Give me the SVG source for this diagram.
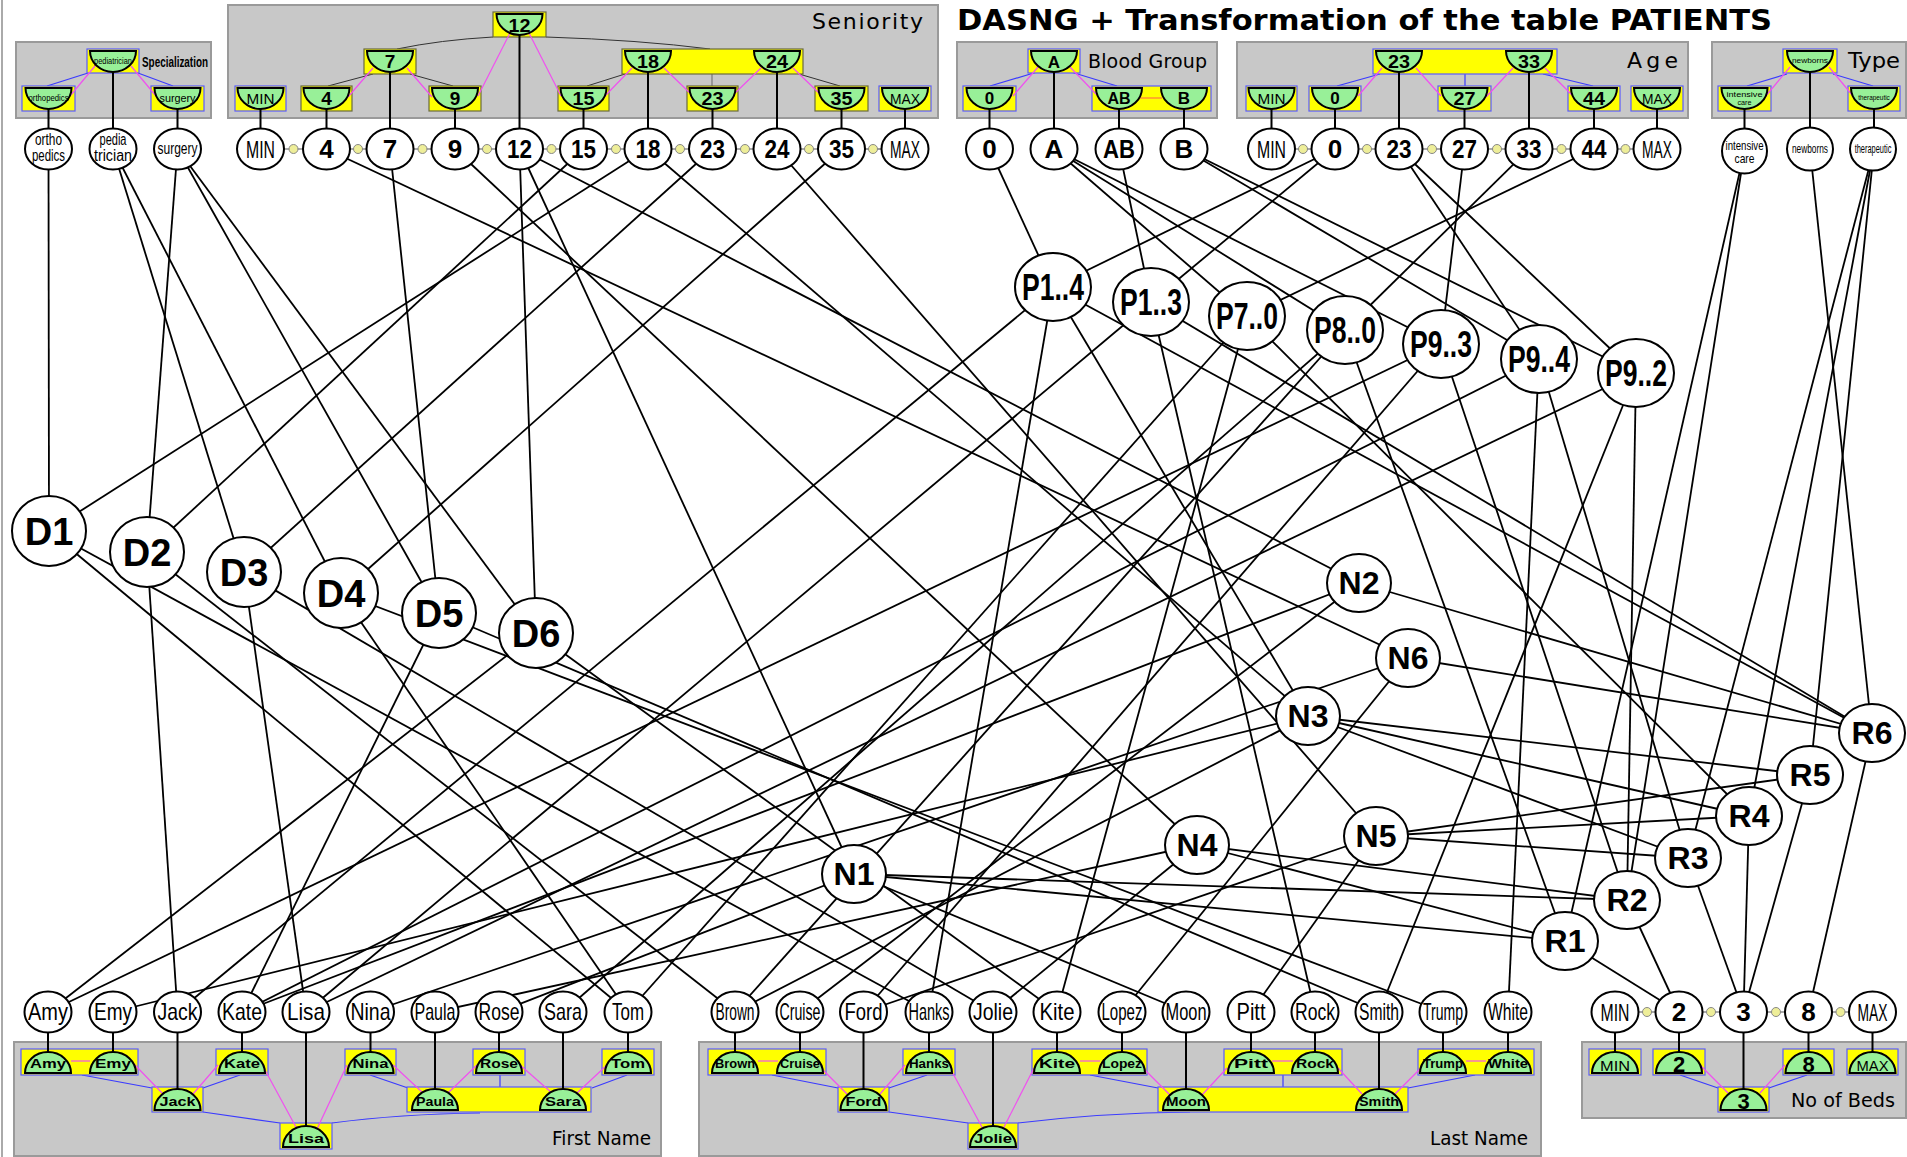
<svg xmlns="http://www.w3.org/2000/svg" width="1907" height="1157" viewBox="0 0 1907 1157">
<defs>
<path id="dt" d="M-23,0H23A23,21 0 0 1 -23,0Z"/>
<path id="db" d="M-23,0A23,21 0 0 1 23,0Z"/>
</defs>
<style>
.pan{fill:#c8c8c8;stroke:#9a9a9a;stroke-width:2}
.bx{fill:#ffff00;stroke:#5a5aff;stroke-width:1.2}
.bk{fill:#ffff00;stroke:#6b6b3c;stroke-width:1.2}
.dc{fill:#98f098;stroke:#000;stroke-width:2}
.hb{stroke:#3a3aff;stroke-width:1.2;fill:none}
.hm{stroke:#f050f0;stroke-width:1.2}
.ho{stroke:#ff9a30;stroke-width:1.6}
.hk{stroke:#333;stroke-width:1;fill:none}
.nd{fill:#fff;stroke:#000;stroke-width:2}
.stem line{stroke:#000;stroke-width:2}
.edges line{stroke:#000;stroke-width:1.8}
.dots line{stroke:#555;stroke-width:1.2}
.dots circle{fill:#eeee99;stroke:#888;stroke-width:1}
text{font-family:"Liberation Sans",Arial,sans-serif;text-anchor:middle;fill:#000}
.tn{font-size:24px}
.tb{font-size:26px;font-weight:bold}
.ts{font-size:16px}
.tt{font-size:13px}
.td{font-size:38px;font-weight:bold}
.tp{font-size:37px;font-weight:bold}
.tr{font-size:32px;font-weight:bold}
.k1{font-size:19px;font-weight:bold}
.k2{font-size:15px}
.k3{font-size:9px}
.kb{font-size:12px;font-weight:bold}
.lab{font-family:"DejaVu Sans","Liberation Sans",sans-serif;font-size:19px;text-anchor:start}
.ttl{font-family:"DejaVu Sans","Liberation Sans",sans-serif;font-size:29px;font-weight:bold;text-anchor:start}
</style>

<rect width="1907" height="1157" fill="#fff"/>
<line x1="2" y1="0" x2="2" y2="1157" stroke="#aaa" stroke-width="2"/>

<!-- attribute panels, top -->
<g id="panel-specialization">
<rect class="pan" x="16" y="42" width="195" height="76"/>
<line class="hb" x1="47" y1="86" x2="88" y2="73"/><line class="hb" x1="138" y1="73" x2="173" y2="86"/>
<rect class="bx" x="22" y="86" width="53" height="25"/><rect class="bx" x="87" y="49" width="52" height="24"/><rect class="bx" x="151" y="86" width="53" height="25"/>
<line class="hm" x1="95" y1="66" x2="70" y2="96"/><line class="hm" x1="131" y1="66" x2="156" y2="96"/>
<use href="#dt" x="48.5" y="88" class="dc"/><use href="#dt" x="113" y="51" class="dc"/><use href="#dt" x="177.5" y="88" class="dc"/>
<text class="k3" x="48.5" y="101" textLength="40" lengthAdjust="spacingAndGlyphs">orthopedics</text>
<text class="k3" x="113" y="64" textLength="38" lengthAdjust="spacingAndGlyphs">pediatrician</text>
<text x="177.5" y="102" style="font-size:11px" textLength="36" lengthAdjust="spacingAndGlyphs">surgery</text>
<text x="142" y="67" style="font-size:15px;font-weight:bold;text-anchor:start" textLength="66" lengthAdjust="spacingAndGlyphs">Specialization</text>
</g>

<g id="panel-seniority">
<rect class="pan" x="228" y="5" width="710" height="113"/>
<path class="hk" d="M397,49 Q440,40 493,37"/><path class="hk" d="M546,37 Q640,40 710,49"/>
<line class="hk" x1="373" y1="74" x2="328" y2="86"/><line class="hk" x1="410" y1="74" x2="453" y2="86"/>
<line class="hk" x1="625" y1="74" x2="587" y2="86"/><line class="hk" x1="799" y1="74" x2="840" y2="86"/>
<line x1="712" y1="74" x2="712" y2="86" stroke="#777" stroke-width="1.2"/>
<rect class="bx" x="235" y="86" width="51" height="25"/><rect class="bk" x="301" y="86" width="51" height="25"/>
<rect class="bk" x="364" y="49" width="52" height="25"/><rect class="bk" x="429" y="86" width="52" height="25"/>
<rect class="bk" x="493" y="12" width="53" height="25"/><rect class="bk" x="558" y="86" width="51" height="25"/>
<rect class="bk" x="622" y="49" width="181" height="25"/><rect class="bk" x="687" y="86" width="51" height="25"/>
<rect class="bk" x="815" y="86" width="53" height="25"/><rect class="bx" x="879" y="86" width="52" height="25"/>
<line class="hm" x1="373" y1="68" x2="348" y2="97"/><line class="hm" x1="407" y1="68" x2="432" y2="97"/>
<line class="hm" x1="510" y1="33" x2="478" y2="96"/><line class="hm" x1="529" y1="33" x2="561" y2="96"/>
<line class="hm" x1="632" y1="68" x2="604" y2="97"/><line class="hm" x1="664" y1="68" x2="692" y2="95"/>
<line class="hm" x1="761" y1="68" x2="733" y2="95"/><line class="hm" x1="793" y1="68" x2="820" y2="94"/>
<use href="#dt" x="260.5" y="88" class="dc"/><use href="#dt" x="326.5" y="88" class="dc"/><use href="#dt" x="390" y="51" class="dc"/>
<use href="#dt" x="455" y="88" class="dc"/><use href="#dt" x="519.5" y="14" class="dc"/><use href="#dt" x="583.5" y="88" class="dc"/>
<use href="#dt" x="648" y="51" class="dc"/><use href="#dt" x="712.5" y="88" class="dc"/><use href="#dt" x="777" y="51" class="dc"/>
<use href="#dt" x="841.5" y="88" class="dc"/><use href="#dt" x="905" y="88" class="dc"/>
<text class="k2" x="260.5" y="104" textLength="28" lengthAdjust="spacingAndGlyphs">MIN</text>
<text class="k1" x="326.5" y="105">4</text><text class="k1" x="390" y="68">7</text><text class="k1" x="455" y="105">9</text>
<text class="k1" x="519.5" y="32" textLength="22" lengthAdjust="spacingAndGlyphs">12</text>
<text class="k1" x="583.5" y="105" textLength="22" lengthAdjust="spacingAndGlyphs">15</text>
<text class="k1" x="648" y="68" textLength="22" lengthAdjust="spacingAndGlyphs">18</text>
<text class="k1" x="712.5" y="105" textLength="22" lengthAdjust="spacingAndGlyphs">23</text>
<text class="k1" x="777" y="68" textLength="22" lengthAdjust="spacingAndGlyphs">24</text>
<text class="k1" x="841.5" y="105" textLength="22" lengthAdjust="spacingAndGlyphs">35</text>
<text class="k2" x="905" y="104" textLength="30" lengthAdjust="spacingAndGlyphs">MAX</text>
<text class="lab" x="812" y="29" style="font-size:22px" textLength="111" lengthAdjust="spacing">Seniority</text>
</g>

<g id="panel-blood">
<rect class="pan" x="957" y="42" width="260" height="76"/>
<line class="hb" x1="990" y1="86" x2="1037" y2="72"/><line class="hb" x1="1071" y1="72" x2="1117" y2="86"/>
<rect class="bx" x="1028" y="49" width="52" height="24"/><rect class="bx" x="963" y="86" width="53" height="25"/><rect class="bx" x="1092" y="86" width="119" height="25"/>
<line class="hm" x1="1038" y1="67" x2="1013" y2="96"/><line class="hm" x1="1070" y1="67" x2="1097" y2="95"/>
<line class="ho" x1="1140" y1="98" x2="1162" y2="98"/>
<use href="#dt" x="1054" y="51" class="dc"/><use href="#dt" x="989.5" y="88" class="dc"/><use href="#dt" x="1119" y="88" class="dc"/><use href="#dt" x="1184" y="88" class="dc"/>
<text class="k1" x="1054" y="68" style="font-size:17px">A</text><text class="k1" x="989.5" y="104" style="font-size:17px">0</text>
<text class="k1" x="1119" y="104" style="font-size:16px">AB</text><text class="k1" x="1184" y="104" style="font-size:17px">B</text>
<text class="lab" x="1088" y="68" textLength="119" lengthAdjust="spacing">Blood Group</text>
</g>

<g id="panel-age">
<rect class="pan" x="1237" y="42" width="451" height="76"/>
<line class="hb" x1="1337" y1="86" x2="1380" y2="74"/><line class="hb" x1="1465" y1="74" x2="1465" y2="86"/><line class="hb" x1="1543" y1="74" x2="1593" y2="86"/>
<rect class="bx" x="1246" y="86" width="51" height="25"/><rect class="bx" x="1309" y="86" width="52" height="25"/>
<rect class="bx" x="1373" y="49" width="184" height="25"/><rect class="bx" x="1438" y="86" width="53" height="25"/>
<rect class="bx" x="1568" y="86" width="52" height="25"/><rect class="bx" x="1631" y="86" width="52" height="25"/>
<line class="hm" x1="1382" y1="68" x2="1358" y2="96"/><line class="hm" x1="1416" y1="68" x2="1441" y2="96"/>
<line class="hm" x1="1513" y1="68" x2="1486" y2="97"/><line class="hm" x1="1545" y1="68" x2="1572" y2="95"/>
<use href="#dt" x="1271.5" y="88" class="dc"/><use href="#dt" x="1335" y="88" class="dc"/><use href="#dt" x="1399" y="51" class="dc"/>
<use href="#dt" x="1464.5" y="88" class="dc"/><use href="#dt" x="1529" y="51" class="dc"/><use href="#dt" x="1594" y="88" class="dc"/><use href="#dt" x="1657" y="88" class="dc"/>
<text class="k2" x="1271.5" y="104" textLength="28" lengthAdjust="spacingAndGlyphs">MIN</text>
<text class="k1" x="1335" y="104" style="font-size:17px">0</text>
<text class="k1" x="1399" y="68" textLength="22" lengthAdjust="spacingAndGlyphs">23</text>
<text class="k1" x="1464.5" y="105" textLength="22" lengthAdjust="spacingAndGlyphs">27</text>
<text class="k1" x="1529" y="68" textLength="22" lengthAdjust="spacingAndGlyphs">33</text>
<text class="k1" x="1594" y="105" textLength="22" lengthAdjust="spacingAndGlyphs">44</text>
<text class="k2" x="1657" y="104" textLength="30" lengthAdjust="spacingAndGlyphs">MAX</text>
<text class="lab" x="1627" y="68" style="font-size:22px" textLength="51" lengthAdjust="spacing">Age</text>
</g>

<g id="panel-type">
<rect class="pan" x="1712" y="42" width="194" height="76"/>
<line class="hb" x1="1747" y1="86" x2="1787" y2="74"/><line class="hb" x1="1833" y1="74" x2="1873" y2="86"/>
<rect class="bx" x="1783" y="49" width="54" height="24"/><rect class="bx" x="1718" y="86" width="53" height="25"/><rect class="bx" x="1848" y="86" width="52" height="25"/>
<line class="hm" x1="1790" y1="67" x2="1765" y2="97"/><line class="hm" x1="1829" y1="67" x2="1853" y2="96"/>
<use href="#dt" x="1810" y="51" class="dc"/><use href="#dt" x="1744.5" y="88" class="dc"/><use href="#dt" x="1874" y="88" class="dc"/>
<text x="1810" y="63" style="font-size:8px" textLength="36" lengthAdjust="spacingAndGlyphs">newborns</text>
<text x="1744.5" y="97" style="font-size:8px" textLength="36" lengthAdjust="spacingAndGlyphs">intensive</text>
<text x="1744.5" y="105" style="font-size:8px" textLength="14" lengthAdjust="spacingAndGlyphs">care</text>
<text transform="translate(1874,100) scale(0.8,1)" style="font-size:8px">therapeutic</text>
<text class="lab" x="1848" y="68" style="font-size:21px" textLength="52" lengthAdjust="spacingAndGlyphs">Type</text>
</g>

<!-- attribute panels, bottom -->
<g id="panel-firstname">
<rect class="pan" x="14" y="1042" width="647" height="114"/>
<line class="hb" x1="82" y1="1075" x2="152" y2="1088"/><line class="hb" x1="240" y1="1075" x2="203" y2="1088"/>
<line class="hb" x1="203" y1="1112" x2="280" y2="1123"/><path class="hb" d="M332,1123 Q400,1114 480,1113"/>
<line class="hb" x1="370" y1="1075" x2="408" y2="1088"/><line class="hb" x1="500" y1="1075" x2="500" y2="1087"/><line class="hb" x1="627" y1="1075" x2="592" y2="1088"/>
<rect class="bx" x="21" y="1049" width="117" height="26"/><rect class="bx" x="216" y="1049" width="52" height="26"/>
<rect class="bx" x="152" y="1087" width="51" height="25"/><rect class="bx" x="280" y="1123" width="52" height="26"/>
<rect class="bx" x="345" y="1049" width="51" height="26"/><rect class="bx" x="407" y="1087" width="184" height="25"/>
<rect class="bx" x="473" y="1049" width="52" height="26"/><rect class="bx" x="602" y="1049" width="52" height="26"/>
<line class="hm" x1="71" y1="1061" x2="90" y2="1061"/>
<line class="hm" x1="133" y1="1063" x2="163" y2="1094"/><line class="hm" x1="218" y1="1065" x2="193" y2="1094"/>
<line class="hm" x1="265" y1="1070" x2="297" y2="1129"/><line class="hm" x1="347" y1="1065" x2="317" y2="1129"/>
<line class="hm" x1="393" y1="1065" x2="423" y2="1093"/><line class="hm" x1="477" y1="1065" x2="448" y2="1093"/>
<line class="hm" x1="520" y1="1065" x2="552" y2="1093"/><line class="hm" x1="607" y1="1065" x2="577" y2="1093"/>
<use href="#db" x="48" y="1073" class="dc"/><use href="#db" x="113" y="1073" class="dc"/><use href="#db" x="242" y="1073" class="dc"/>
<use href="#db" x="177.5" y="1110" class="dc"/><use href="#db" x="306" y="1147" class="dc"/><use href="#db" x="370.5" y="1073" class="dc"/>
<use href="#db" x="435" y="1110" class="dc"/><use href="#db" x="563" y="1110" class="dc"/><use href="#db" x="499" y="1073" class="dc"/><use href="#db" x="628" y="1073" class="dc"/>
<text class="kb" x="48" y="1068" textLength="36" lengthAdjust="spacingAndGlyphs">Amy</text>
<text class="kb" x="113" y="1068" textLength="36" lengthAdjust="spacingAndGlyphs">Emy</text>
<text class="kb" x="242" y="1068" textLength="36" lengthAdjust="spacingAndGlyphs">Kate</text>
<text class="kb" x="177.5" y="1106" textLength="36" lengthAdjust="spacingAndGlyphs">Jack</text>
<text class="kb" x="306" y="1143" textLength="36" lengthAdjust="spacingAndGlyphs">Lisa</text>
<text class="kb" x="370.5" y="1068" textLength="36" lengthAdjust="spacingAndGlyphs">Nina</text>
<text class="kb" x="435" y="1106" textLength="38" lengthAdjust="spacingAndGlyphs">Paula</text>
<text class="kb" x="563" y="1106" textLength="36" lengthAdjust="spacingAndGlyphs">Sara</text>
<text class="kb" x="499" y="1068" textLength="38" lengthAdjust="spacingAndGlyphs">Rose</text>
<text class="kb" x="628" y="1068" textLength="34" lengthAdjust="spacingAndGlyphs">Tom</text>
<text class="lab" x="552" y="1145" textLength="99" lengthAdjust="spacingAndGlyphs">First Name</text>
</g>

<g id="panel-lastname">
<rect class="pan" x="699" y="1042" width="842" height="114"/>
<line class="hb" x1="772" y1="1075" x2="838" y2="1088"/><line class="hb" x1="927" y1="1075" x2="889" y2="1088"/>
<line class="hb" x1="889" y1="1112" x2="968" y2="1123"/><path class="hb" d="M1018,1123 Q1100,1113 1190,1112"/>
<line class="hb" x1="1090" y1="1075" x2="1158" y2="1088"/><line class="hb" x1="1283" y1="1075" x2="1283" y2="1087"/><line class="hb" x1="1475" y1="1075" x2="1408" y2="1088"/>
<rect class="bx" x="708" y="1049" width="118" height="26"/><rect class="bx" x="838" y="1087" width="51" height="25"/>
<rect class="bx" x="903" y="1049" width="52" height="26"/><rect class="bx" x="968" y="1123" width="50" height="26"/>
<rect class="bx" x="1032" y="1049" width="115" height="26"/><rect class="bx" x="1158" y="1087" width="250" height="25"/>
<rect class="bx" x="1224" y="1049" width="118" height="26"/><rect class="bx" x="1418" y="1049" width="116" height="26"/>
<line class="hm" x1="758" y1="1061" x2="778" y2="1061"/><line class="hm" x1="1080" y1="1061" x2="1100" y2="1061"/>
<line class="hm" x1="1272" y1="1061" x2="1293" y2="1061"/><line class="hm" x1="1466" y1="1061" x2="1486" y2="1061"/>
<line class="hm" x1="818" y1="1065" x2="847" y2="1094"/><line class="hm" x1="905" y1="1065" x2="880" y2="1094"/>
<line class="hm" x1="950" y1="1068" x2="983" y2="1129"/><line class="hm" x1="1034" y1="1068" x2="1003" y2="1129"/>
<line class="hm" x1="1143" y1="1068" x2="1170" y2="1095"/><line class="hm" x1="1227" y1="1068" x2="1202" y2="1095"/>
<line class="hm" x1="1338" y1="1068" x2="1362" y2="1094"/><line class="hm" x1="1421" y1="1068" x2="1395" y2="1094"/>
<use href="#db" x="735" y="1073" class="dc"/><use href="#db" x="800" y="1073" class="dc"/><use href="#db" x="863.5" y="1110" class="dc"/>
<use href="#db" x="929" y="1073" class="dc"/><use href="#db" x="993" y="1147" class="dc"/><use href="#db" x="1057" y="1073" class="dc"/>
<use href="#db" x="1122" y="1073" class="dc"/><use href="#db" x="1186" y="1110" class="dc"/><use href="#db" x="1251" y="1073" class="dc"/>
<use href="#db" x="1315" y="1073" class="dc"/><use href="#db" x="1379" y="1110" class="dc"/><use href="#db" x="1443" y="1073" class="dc"/><use href="#db" x="1508" y="1073" class="dc"/>
<text class="kb" x="735" y="1068" textLength="40" lengthAdjust="spacingAndGlyphs">Brown</text>
<text class="kb" x="800" y="1068" textLength="40" lengthAdjust="spacingAndGlyphs">Cruise</text>
<text class="kb" x="863.5" y="1106" textLength="36" lengthAdjust="spacingAndGlyphs">Ford</text>
<text class="kb" x="929" y="1068" textLength="40" lengthAdjust="spacingAndGlyphs">Hanks</text>
<text class="kb" x="993" y="1143" textLength="38" lengthAdjust="spacingAndGlyphs">Jolie</text>
<text class="kb" x="1057" y="1068" textLength="36" lengthAdjust="spacingAndGlyphs">Kite</text>
<text class="kb" x="1122" y="1068" textLength="40" lengthAdjust="spacingAndGlyphs">Lopez</text>
<text class="kb" x="1186" y="1106" textLength="40" lengthAdjust="spacingAndGlyphs">Moon</text>
<text class="kb" x="1251" y="1068" textLength="34" lengthAdjust="spacingAndGlyphs">Pitt</text>
<text class="kb" x="1315" y="1068" textLength="38" lengthAdjust="spacingAndGlyphs">Rock</text>
<text class="kb" x="1379" y="1106" textLength="40" lengthAdjust="spacingAndGlyphs">Smith</text>
<text class="kb" x="1443" y="1068" textLength="40" lengthAdjust="spacingAndGlyphs">Trump</text>
<text class="kb" x="1508" y="1068" textLength="40" lengthAdjust="spacingAndGlyphs">White</text>
<text class="lab" x="1430" y="1145" textLength="98" lengthAdjust="spacingAndGlyphs">Last Name</text>
</g>

<g id="panel-beds">
<rect class="pan" x="1582" y="1042" width="324" height="76"/>
<line class="hb" x1="1680" y1="1075" x2="1718" y2="1088"/><line class="hb" x1="1807" y1="1075" x2="1769" y2="1088"/>
<rect class="bx" x="1589" y="1049" width="52" height="26"/><rect class="bx" x="1653" y="1049" width="52" height="26"/>
<rect class="bx" x="1783" y="1049" width="51" height="26"/><rect class="bx" x="1847" y="1049" width="51" height="26"/><rect class="bx" x="1718" y="1087" width="51" height="25"/>
<line class="hm" x1="1700" y1="1065" x2="1728" y2="1093"/><line class="hm" x1="1785" y1="1065" x2="1760" y2="1093"/>
<use href="#db" x="1615" y="1073" class="dc"/><use href="#db" x="1679" y="1073" class="dc"/><use href="#db" x="1808.5" y="1073" class="dc"/>
<use href="#db" x="1872.5" y="1073" class="dc"/><use href="#db" x="1743.5" y="1110" class="dc"/>
<text class="k2" x="1615" y="1071" textLength="30" lengthAdjust="spacingAndGlyphs">MIN</text>
<text class="k1" x="1679" y="1072" style="font-size:22px">2</text>
<text class="k1" x="1808.5" y="1072" style="font-size:22px">8</text>
<text class="k2" x="1872.5" y="1071" textLength="32" lengthAdjust="spacingAndGlyphs">MAX</text>
<text class="k1" x="1743.5" y="1109" style="font-size:22px">3</text>
<text class="lab" x="1791" y="1107" textLength="104" lengthAdjust="spacingAndGlyphs">No of Beds</text>
</g>

<!-- stems from value boxes to value nodes -->
<g class="stem" id="stems">
<line x1="48.5" y1="109" x2="48.5" y2="128"/><line x1="113" y1="72" x2="113" y2="128"/><line x1="177.5" y1="109" x2="177.5" y2="128"/>
<line x1="260.5" y1="109" x2="260.5" y2="128"/><line x1="326.5" y1="109" x2="326.5" y2="128"/><line x1="390" y1="72" x2="390" y2="128"/>
<line x1="455" y1="109" x2="455" y2="128"/><line x1="519.5" y1="35" x2="519.5" y2="128"/><line x1="583.5" y1="109" x2="583.5" y2="128"/>
<line x1="648" y1="72" x2="648" y2="128"/><line x1="712.5" y1="109" x2="712.5" y2="128"/><line x1="777" y1="72" x2="777" y2="128"/>
<line x1="841.5" y1="109" x2="841.5" y2="128"/><line x1="905" y1="109" x2="905" y2="128"/>
<line x1="989.5" y1="109" x2="989.5" y2="128"/><line x1="1054" y1="72" x2="1054" y2="128"/><line x1="1119" y1="109" x2="1119" y2="128"/><line x1="1184" y1="109" x2="1184" y2="128"/>
<line x1="1271.5" y1="109" x2="1271.5" y2="128"/><line x1="1335" y1="109" x2="1335" y2="128"/><line x1="1399" y1="72" x2="1399" y2="128"/>
<line x1="1464.5" y1="109" x2="1464.5" y2="128"/><line x1="1529" y1="72" x2="1529" y2="128"/><line x1="1594" y1="109" x2="1594" y2="128"/><line x1="1657" y1="109" x2="1657" y2="128"/>
<line x1="1744.5" y1="109" x2="1744.5" y2="129"/><line x1="1810" y1="72" x2="1810" y2="128"/><line x1="1874" y1="109" x2="1874" y2="128"/>
<line x1="48" y1="1033" x2="48" y2="1052"/><line x1="113" y1="1033" x2="113" y2="1052"/><line x1="177.5" y1="1033" x2="177.5" y2="1089"/>
<line x1="242" y1="1033" x2="242" y2="1052"/><line x1="306" y1="1033" x2="306" y2="1126"/><line x1="370.5" y1="1033" x2="370.5" y2="1052"/>
<line x1="435" y1="1033" x2="435" y2="1089"/><line x1="499" y1="1033" x2="499" y2="1052"/><line x1="563" y1="1033" x2="563" y2="1089"/><line x1="628" y1="1033" x2="628" y2="1052"/>
<line x1="735" y1="1033" x2="735" y2="1052"/><line x1="800" y1="1033" x2="800" y2="1052"/><line x1="863.5" y1="1033" x2="863.5" y2="1089"/>
<line x1="929" y1="1033" x2="929" y2="1052"/><line x1="993" y1="1033" x2="993" y2="1126"/><line x1="1057" y1="1033" x2="1057" y2="1052"/>
<line x1="1122" y1="1033" x2="1122" y2="1052"/><line x1="1186" y1="1033" x2="1186" y2="1089"/><line x1="1251" y1="1033" x2="1251" y2="1052"/>
<line x1="1315" y1="1033" x2="1315" y2="1052"/><line x1="1379" y1="1033" x2="1379" y2="1089"/><line x1="1443" y1="1033" x2="1443" y2="1052"/><line x1="1508" y1="1033" x2="1508" y2="1052"/>
<line x1="1615" y1="1033" x2="1615" y2="1052"/><line x1="1679" y1="1033" x2="1679" y2="1052"/><line x1="1743.5" y1="1033" x2="1743.5" y2="1089"/>
<line x1="1808.5" y1="1033" x2="1808.5" y2="1052"/><line x1="1872.5" y1="1033" x2="1872.5" y2="1052"/>
</g>

<!-- order links between neighbouring values -->
<g class="dots" id="order-chains">
<line x1="284" y1="149" x2="849" y2="149"/><line x1="865" y1="149" x2="882" y2="149"/>
<line x1="1295" y1="149" x2="1634" y2="149"/>
<line x1="1638" y1="1012" x2="1850" y2="1012"/>
<circle cx="293.5" cy="149" r="4.5"/><circle cx="358" cy="149" r="4.5"/><circle cx="422.5" cy="149" r="4.5"/><circle cx="487" cy="149" r="4.5"/>
<circle cx="551.5" cy="149" r="4.5"/><circle cx="616" cy="149" r="4.5"/><circle cx="680" cy="149" r="4.5"/><circle cx="745" cy="149" r="4.5"/>
<circle cx="809" cy="149" r="4.5"/><circle cx="873" cy="149" r="4.5"/>
<circle cx="1303" cy="149" r="4.5"/><circle cx="1367" cy="149" r="4.5"/><circle cx="1432" cy="149" r="4.5"/><circle cx="1497" cy="149" r="4.5"/>
<circle cx="1561.5" cy="149" r="4.5"/><circle cx="1625.5" cy="149" r="4.5"/>
<circle cx="1647" cy="1012" r="4.5"/><circle cx="1711" cy="1012" r="4.5"/><circle cx="1776" cy="1012" r="4.5"/><circle cx="1840.5" cy="1012" r="4.5"/>
</g>

<!-- graph edges -->
<g class="edges" id="connectors">
<line x1="48.5" y1="149" x2="49" y2="531"/>
<line x1="113" y1="149" x2="244" y2="572"/><line x1="113" y1="149" x2="341" y2="593"/>
<line x1="177.5" y1="149" x2="147" y2="552"/><line x1="177.5" y1="149" x2="439" y2="613"/><line x1="177.5" y1="149" x2="536" y2="633"/>
<line x1="648" y1="149" x2="49" y2="531"/><line x1="583.5" y1="149" x2="147" y2="552"/><line x1="712.5" y1="149" x2="244" y2="572"/>
<line x1="841.5" y1="149" x2="341" y2="593"/><line x1="390" y1="149" x2="439" y2="613"/><line x1="519.5" y1="149" x2="536" y2="633"/>
<line x1="49" y1="531" x2="628" y2="1012"/><line x1="49" y1="531" x2="929" y2="1012"/>
<line x1="147" y1="552" x2="177.5" y2="1012"/><line x1="147" y1="552" x2="735" y2="1012"/>
<line x1="244" y1="572" x2="306" y2="1012"/><line x1="244" y1="572" x2="993" y2="1012"/>
<line x1="341" y1="593" x2="628" y2="1012"/><line x1="341" y1="593" x2="1443" y2="1012"/>
<line x1="439" y1="613" x2="242" y2="1012"/><line x1="439" y1="613" x2="1379" y2="1012"/>
<line x1="536" y1="633" x2="48" y2="1012"/><line x1="536" y1="633" x2="1057" y2="1012"/>
<line x1="519.5" y1="149" x2="854" y2="874"/><line x1="519.5" y1="149" x2="1359" y2="583"/>
<line x1="326.5" y1="149" x2="1408" y2="658"/><line x1="455" y1="149" x2="1197" y2="845"/>
<line x1="777" y1="149" x2="1376" y2="836"/><line x1="648" y1="149" x2="1308" y2="716"/>
<line x1="1053" y1="287" x2="1308" y2="716"/>
<line x1="854" y1="874" x2="1565" y2="941"/><line x1="854" y1="874" x2="1627" y2="900"/>
<line x1="1197" y1="845" x2="1565" y2="941"/><line x1="1197" y1="845" x2="1627" y2="900"/>
<line x1="1308" y1="716" x2="1688" y2="858"/><line x1="1308" y1="716" x2="1749" y2="816"/><line x1="1308" y1="716" x2="1810" y2="775"/>
<line x1="1376" y1="836" x2="1688" y2="858"/><line x1="1376" y1="836" x2="1749" y2="816"/><line x1="1376" y1="836" x2="1810" y2="775"/>
<line x1="1359" y1="583" x2="1872" y2="733"/><line x1="1408" y1="658" x2="1872" y2="733"/>
<line x1="854" y1="874" x2="1186" y2="1012"/><line x1="854" y1="874" x2="499" y2="1012"/>
<line x1="1359" y1="583" x2="242" y2="1012"/><line x1="1359" y1="583" x2="800" y2="1012"/>
<line x1="1308" y1="716" x2="113" y2="1012"/><line x1="1308" y1="716" x2="735" y2="1012"/>
<line x1="1197" y1="845" x2="435" y2="1012"/><line x1="1197" y1="845" x2="993" y2="1012"/>
<line x1="1376" y1="836" x2="1251" y2="1012"/><line x1="1376" y1="836" x2="863.5" y2="1012"/>
<line x1="1408" y1="658" x2="370.5" y2="1012"/><line x1="1408" y1="658" x2="1122" y2="1012"/>
<line x1="989.5" y1="149" x2="1053" y2="287"/>
<line x1="1054" y1="149" x2="1247" y2="316"/><line x1="1054" y1="149" x2="1345" y2="330"/><line x1="1054" y1="149" x2="1441" y2="344"/>
<line x1="1119" y1="149" x2="1151" y2="302"/>
<line x1="1184" y1="149" x2="1539" y2="359"/><line x1="1184" y1="149" x2="1636" y2="373"/>
<line x1="1335" y1="149" x2="1053" y2="287"/><line x1="1335" y1="149" x2="1151" y2="302"/>
<line x1="1594" y1="149" x2="1247" y2="316"/><line x1="1529" y1="149" x2="1345" y2="330"/><line x1="1464.5" y1="149" x2="1441" y2="344"/>
<line x1="1399" y1="149" x2="1539" y2="359"/><line x1="1399" y1="149" x2="1636" y2="373"/>
<line x1="1053" y1="287" x2="1872" y2="733"/><line x1="1151" y1="302" x2="1872" y2="733"/>
<line x1="1247" y1="316" x2="1749" y2="816"/><line x1="1345" y1="330" x2="1565" y2="941"/>
<line x1="1441" y1="344" x2="1627" y2="900"/><line x1="1539" y1="359" x2="1688" y2="858"/><line x1="1636" y1="373" x2="1627" y2="900"/>
<line x1="1053" y1="287" x2="177.5" y2="1012"/><line x1="1053" y1="287" x2="929" y2="1012"/>
<line x1="1151" y1="302" x2="306" y2="1012"/><line x1="1151" y1="302" x2="1315" y2="1012"/>
<line x1="1247" y1="316" x2="628" y2="1012"/><line x1="1247" y1="316" x2="1057" y2="1012"/>
<line x1="1345" y1="330" x2="563" y2="1012"/><line x1="1345" y1="330" x2="735" y2="1012"/>
<line x1="1441" y1="344" x2="48" y2="1012"/><line x1="1441" y1="344" x2="863.5" y2="1012"/>
<line x1="1539" y1="359" x2="242" y2="1012"/><line x1="1539" y1="359" x2="1508" y2="1012"/>
<line x1="1636" y1="373" x2="306" y2="1012"/><line x1="1636" y1="373" x2="1379" y2="1012"/>
<line x1="1744.5" y1="151" x2="1565" y2="941"/><line x1="1744.5" y1="151" x2="1627" y2="900"/>
<line x1="1810" y1="149" x2="1872" y2="733"/>
<line x1="1874" y1="149" x2="1688" y2="858"/><line x1="1874" y1="149" x2="1749" y2="816"/><line x1="1874" y1="149" x2="1810" y2="775"/>
<line x1="1565" y1="941" x2="1679" y2="1012"/><line x1="1627" y1="900" x2="1679" y2="1012"/>
<line x1="1688" y1="858" x2="1743.5" y2="1012"/><line x1="1749" y1="816" x2="1743.5" y2="1012"/><line x1="1810" y1="775" x2="1743.5" y2="1012"/>
<line x1="1872" y1="733" x2="1808.5" y2="1012"/>
</g>

<!-- value nodes, top row -->
<g id="v-orthopedics"><ellipse class="nd" cx="48.5" cy="149" rx="23.5" ry="20.5"/><text class="ts" x="48.5" y="145" textLength="27" lengthAdjust="spacingAndGlyphs">ortho</text><text class="ts" x="48.5" y="161" textLength="33" lengthAdjust="spacingAndGlyphs">pedics</text></g>
<g id="v-pediatrician"><ellipse class="nd" cx="113" cy="149" rx="23.5" ry="20.5"/><text class="ts" x="113" y="145" textLength="27" lengthAdjust="spacingAndGlyphs">pedia</text><text class="ts" x="113" y="161" textLength="38" lengthAdjust="spacingAndGlyphs">trician</text></g>
<g id="v-surgery"><ellipse class="nd" cx="177.5" cy="149" rx="23.5" ry="20.5"/><text class="ts" x="177.5" y="154" textLength="40" lengthAdjust="spacingAndGlyphs">surgery</text></g>
<g id="v-sen-min"><ellipse class="nd" cx="260.5" cy="149" rx="23.5" ry="20.5"/><text class="tn" x="260.5" y="158" textLength="29" lengthAdjust="spacingAndGlyphs">MIN</text></g>
<g id="v-sen-4"><ellipse class="nd" cx="326.5" cy="149" rx="23.5" ry="20.5"/><text class="tb" x="326.5" y="158">4</text></g>
<g id="v-sen-7"><ellipse class="nd" cx="390" cy="149" rx="23.5" ry="20.5"/><text class="tb" x="390" y="158">7</text></g>
<g id="v-sen-9"><ellipse class="nd" cx="455" cy="149" rx="23.5" ry="20.5"/><text class="tb" x="455" y="158">9</text></g>
<g id="v-sen-12"><ellipse class="nd" cx="519.5" cy="149" rx="23.5" ry="20.5"/><text class="tb" x="519.5" y="158" textLength="25" lengthAdjust="spacingAndGlyphs">12</text></g>
<g id="v-sen-15"><ellipse class="nd" cx="583.5" cy="149" rx="23.5" ry="20.5"/><text class="tb" x="583.5" y="158" textLength="25" lengthAdjust="spacingAndGlyphs">15</text></g>
<g id="v-sen-18"><ellipse class="nd" cx="648" cy="149" rx="23.5" ry="20.5"/><text class="tb" x="648" y="158" textLength="25" lengthAdjust="spacingAndGlyphs">18</text></g>
<g id="v-sen-23"><ellipse class="nd" cx="712.5" cy="149" rx="23.5" ry="20.5"/><text class="tb" x="712.5" y="158" textLength="25" lengthAdjust="spacingAndGlyphs">23</text></g>
<g id="v-sen-24"><ellipse class="nd" cx="777" cy="149" rx="23.5" ry="20.5"/><text class="tb" x="777" y="158" textLength="25" lengthAdjust="spacingAndGlyphs">24</text></g>
<g id="v-sen-35"><ellipse class="nd" cx="841.5" cy="149" rx="23.5" ry="20.5"/><text class="tb" x="841.5" y="158" textLength="25" lengthAdjust="spacingAndGlyphs">35</text></g>
<g id="v-sen-max"><ellipse class="nd" cx="905" cy="149" rx="23.5" ry="20.5"/><text class="tn" x="905" y="158" textLength="30" lengthAdjust="spacingAndGlyphs">MAX</text></g>
<g id="v-bg-0"><ellipse class="nd" cx="989.5" cy="149" rx="23.5" ry="20.5"/><text class="tb" x="989.5" y="158">0</text></g>
<g id="v-bg-a"><ellipse class="nd" cx="1054" cy="149" rx="23.5" ry="20.5"/><text class="tb" x="1054" y="158">A</text></g>
<g id="v-bg-ab"><ellipse class="nd" cx="1119" cy="149" rx="23.5" ry="20.5"/><text class="tb" x="1119" y="158" textLength="32" lengthAdjust="spacingAndGlyphs">AB</text></g>
<g id="v-bg-b"><ellipse class="nd" cx="1184" cy="149" rx="23.5" ry="20.5"/><text class="tb" x="1184" y="158">B</text></g>
<g id="v-age-min"><ellipse class="nd" cx="1271.5" cy="149" rx="23.5" ry="20.5"/><text class="tn" x="1271.5" y="158" textLength="29" lengthAdjust="spacingAndGlyphs">MIN</text></g>
<g id="v-age-0"><ellipse class="nd" cx="1335" cy="149" rx="23.5" ry="20.5"/><text class="tb" x="1335" y="158">0</text></g>
<g id="v-age-23"><ellipse class="nd" cx="1399" cy="149" rx="23.5" ry="20.5"/><text class="tb" x="1399" y="158" textLength="25" lengthAdjust="spacingAndGlyphs">23</text></g>
<g id="v-age-27"><ellipse class="nd" cx="1464.5" cy="149" rx="23.5" ry="20.5"/><text class="tb" x="1464.5" y="158" textLength="25" lengthAdjust="spacingAndGlyphs">27</text></g>
<g id="v-age-33"><ellipse class="nd" cx="1529" cy="149" rx="23.5" ry="20.5"/><text class="tb" x="1529" y="158" textLength="25" lengthAdjust="spacingAndGlyphs">33</text></g>
<g id="v-age-44"><ellipse class="nd" cx="1594" cy="149" rx="23.5" ry="20.5"/><text class="tb" x="1594" y="158" textLength="25" lengthAdjust="spacingAndGlyphs">44</text></g>
<g id="v-age-max"><ellipse class="nd" cx="1657" cy="149" rx="23.5" ry="20.5"/><text class="tn" x="1657" y="158" textLength="30" lengthAdjust="spacingAndGlyphs">MAX</text></g>
<g id="v-intensive"><ellipse class="nd" cx="1744.5" cy="151" rx="22.5" ry="22.5"/><text class="tt" x="1744.5" y="150" textLength="38" lengthAdjust="spacingAndGlyphs">intensive</text><text class="tt" x="1744.5" y="163" textLength="20" lengthAdjust="spacingAndGlyphs">care</text></g>
<g id="v-newborns"><ellipse class="nd" cx="1810" cy="149" rx="23" ry="21.5"/><text class="tt" x="1810" y="153" textLength="36" lengthAdjust="spacingAndGlyphs">newborns</text></g>
<g id="v-therapeutic"><ellipse class="nd" cx="1873" cy="149" rx="23" ry="21.5"/><text transform="translate(1873,153) scale(0.62,1)" style="font-size:12px">therapeutic</text></g>

<!-- value nodes, bottom row -->
<g id="v-amy"><ellipse class="nd" cx="48" cy="1012" rx="23.5" ry="20.5"/><text class="tn" x="48" y="1020" textLength="40" lengthAdjust="spacingAndGlyphs">Amy</text></g>
<g id="v-emy"><ellipse class="nd" cx="113" cy="1012" rx="23.5" ry="20.5"/><text class="tn" x="113" y="1020" textLength="38" lengthAdjust="spacingAndGlyphs">Emy</text></g>
<g id="v-jack"><ellipse class="nd" cx="177.5" cy="1012" rx="23.5" ry="20.5"/><text class="tn" x="177.5" y="1020" textLength="40" lengthAdjust="spacingAndGlyphs">Jack</text></g>
<g id="v-kate"><ellipse class="nd" cx="242" cy="1012" rx="23.5" ry="20.5"/><text class="tn" x="242" y="1020" textLength="40" lengthAdjust="spacingAndGlyphs">Kate</text></g>
<g id="v-lisa"><ellipse class="nd" cx="306" cy="1012" rx="23.5" ry="20.5"/><text class="tn" x="306" y="1020" textLength="38" lengthAdjust="spacingAndGlyphs">Lisa</text></g>
<g id="v-nina"><ellipse class="nd" cx="370.5" cy="1012" rx="23.5" ry="20.5"/><text class="tn" x="370.5" y="1020" textLength="40" lengthAdjust="spacingAndGlyphs">Nina</text></g>
<g id="v-paula"><ellipse class="nd" cx="435" cy="1012" rx="23.5" ry="20.5"/><text class="tn" x="435" y="1020" textLength="41" lengthAdjust="spacingAndGlyphs">Paula</text></g>
<g id="v-rose"><ellipse class="nd" cx="499" cy="1012" rx="23.5" ry="20.5"/><text class="tn" x="499" y="1020" textLength="41" lengthAdjust="spacingAndGlyphs">Rose</text></g>
<g id="v-sara"><ellipse class="nd" cx="563" cy="1012" rx="23.5" ry="20.5"/><text class="tn" x="563" y="1020" textLength="38" lengthAdjust="spacingAndGlyphs">Sara</text></g>
<g id="v-tom"><ellipse class="nd" cx="628" cy="1012" rx="23.5" ry="20.5"/><text class="tn" x="628" y="1020" textLength="32" lengthAdjust="spacingAndGlyphs">Tom</text></g>
<g id="v-brown"><ellipse class="nd" cx="735" cy="1012" rx="23.5" ry="20.5"/><text class="tn" x="735" y="1020" textLength="39" lengthAdjust="spacingAndGlyphs">Brown</text></g>
<g id="v-cruise"><ellipse class="nd" cx="800" cy="1012" rx="23.5" ry="20.5"/><text class="tn" x="800" y="1020" textLength="41" lengthAdjust="spacingAndGlyphs">Cruise</text></g>
<g id="v-ford"><ellipse class="nd" cx="863.5" cy="1012" rx="23.5" ry="20.5"/><text class="tn" x="863.5" y="1020" textLength="38" lengthAdjust="spacingAndGlyphs">Ford</text></g>
<g id="v-hanks"><ellipse class="nd" cx="929" cy="1012" rx="23.5" ry="20.5"/><text class="tn" x="929" y="1020" textLength="41" lengthAdjust="spacingAndGlyphs">Hanks</text></g>
<g id="v-jolie"><ellipse class="nd" cx="993" cy="1012" rx="23.5" ry="20.5"/><text class="tn" x="993" y="1020" textLength="40" lengthAdjust="spacingAndGlyphs">Jolie</text></g>
<g id="v-kite"><ellipse class="nd" cx="1057" cy="1012" rx="23.5" ry="20.5"/><text class="tn" x="1057" y="1020" textLength="35" lengthAdjust="spacingAndGlyphs">Kite</text></g>
<g id="v-lopez"><ellipse class="nd" cx="1122" cy="1012" rx="23.5" ry="20.5"/><text class="tn" x="1122" y="1020" textLength="41" lengthAdjust="spacingAndGlyphs">Lopez</text></g>
<g id="v-moon"><ellipse class="nd" cx="1186" cy="1012" rx="23.5" ry="20.5"/><text class="tn" x="1186" y="1020" textLength="41" lengthAdjust="spacingAndGlyphs">Moon</text></g>
<g id="v-pitt"><ellipse class="nd" cx="1251" cy="1012" rx="23.5" ry="20.5"/><text class="tn" x="1251" y="1020" textLength="29" lengthAdjust="spacingAndGlyphs">Pitt</text></g>
<g id="v-rock"><ellipse class="nd" cx="1315" cy="1012" rx="23.5" ry="20.5"/><text class="tn" x="1315" y="1020" textLength="40" lengthAdjust="spacingAndGlyphs">Rock</text></g>
<g id="v-smith"><ellipse class="nd" cx="1379" cy="1012" rx="23.5" ry="20.5"/><text class="tn" x="1379" y="1020" textLength="40" lengthAdjust="spacingAndGlyphs">Smith</text></g>
<g id="v-trump"><ellipse class="nd" cx="1443" cy="1012" rx="23.5" ry="20.5"/><text class="tn" x="1443" y="1020" textLength="40" lengthAdjust="spacingAndGlyphs">Trump</text></g>
<g id="v-white"><ellipse class="nd" cx="1508" cy="1012" rx="23.5" ry="20.5"/><text class="tn" x="1508" y="1020" textLength="40" lengthAdjust="spacingAndGlyphs">White</text></g>
<g id="v-beds-min"><ellipse class="nd" cx="1615" cy="1012" rx="23.5" ry="20.5"/><text class="tn" x="1615" y="1021" textLength="29" lengthAdjust="spacingAndGlyphs">MIN</text></g>
<g id="v-beds-2"><ellipse class="nd" cx="1679" cy="1012" rx="23.5" ry="20.5"/><text class="tb" x="1679" y="1021">2</text></g>
<g id="v-beds-3"><ellipse class="nd" cx="1743.5" cy="1012" rx="23.5" ry="20.5"/><text class="tb" x="1743.5" y="1021">3</text></g>
<g id="v-beds-8"><ellipse class="nd" cx="1808.5" cy="1012" rx="23.5" ry="20.5"/><text class="tb" x="1808.5" y="1021">8</text></g>
<g id="v-beds-max"><ellipse class="nd" cx="1872.5" cy="1012" rx="23.5" ry="20.5"/><text class="tn" x="1872.5" y="1021" textLength="30" lengthAdjust="spacingAndGlyphs">MAX</text></g>

<!-- entity nodes -->
<g id="D1"><ellipse class="nd" cx="49" cy="531" rx="37" ry="35"/><text class="td" x="49" y="545">D1</text></g>
<g id="D2"><ellipse class="nd" cx="147" cy="552" rx="37" ry="35"/><text class="td" x="147" y="566">D2</text></g>
<g id="D3"><ellipse class="nd" cx="244" cy="572" rx="37" ry="35"/><text class="td" x="244" y="586">D3</text></g>
<g id="D4"><ellipse class="nd" cx="341" cy="593" rx="37" ry="35"/><text class="td" x="341" y="607">D4</text></g>
<g id="D5"><ellipse class="nd" cx="439" cy="613" rx="37" ry="35"/><text class="td" x="439" y="627">D5</text></g>
<g id="D6"><ellipse class="nd" cx="536" cy="633" rx="37" ry="35"/><text class="td" x="536" y="647">D6</text></g>
<g id="P1-4"><ellipse class="nd" cx="1053" cy="287" rx="38" ry="34"/><text class="tp" x="1053" y="300" textLength="62" lengthAdjust="spacingAndGlyphs">P1..4</text></g>
<g id="P1-3"><ellipse class="nd" cx="1151" cy="302" rx="38" ry="34"/><text class="tp" x="1151" y="315" textLength="62" lengthAdjust="spacingAndGlyphs">P1..3</text></g>
<g id="P7-0"><ellipse class="nd" cx="1247" cy="316" rx="38" ry="34"/><text class="tp" x="1247" y="329" textLength="62" lengthAdjust="spacingAndGlyphs">P7..0</text></g>
<g id="P8-0"><ellipse class="nd" cx="1345" cy="330" rx="38" ry="34"/><text class="tp" x="1345" y="343" textLength="62" lengthAdjust="spacingAndGlyphs">P8..0</text></g>
<g id="P9-3"><ellipse class="nd" cx="1441" cy="344" rx="38" ry="34"/><text class="tp" x="1441" y="357" textLength="62" lengthAdjust="spacingAndGlyphs">P9..3</text></g>
<g id="P9-4"><ellipse class="nd" cx="1539" cy="359" rx="38" ry="34"/><text class="tp" x="1539" y="372" textLength="62" lengthAdjust="spacingAndGlyphs">P9..4</text></g>
<g id="P9-2"><ellipse class="nd" cx="1636" cy="373" rx="38" ry="34"/><text class="tp" x="1636" y="386" textLength="62" lengthAdjust="spacingAndGlyphs">P9..2</text></g>
<g id="N1"><ellipse class="nd" cx="854" cy="874" rx="32" ry="29"/><text class="tr" x="854" y="885">N1</text></g>
<g id="N2"><ellipse class="nd" cx="1359" cy="583" rx="32" ry="29"/><text class="tr" x="1359" y="594">N2</text></g>
<g id="N3"><ellipse class="nd" cx="1308" cy="716" rx="32" ry="29"/><text class="tr" x="1308" y="727">N3</text></g>
<g id="N4"><ellipse class="nd" cx="1197" cy="845" rx="32" ry="29"/><text class="tr" x="1197" y="856">N4</text></g>
<g id="N5"><ellipse class="nd" cx="1376" cy="836" rx="32" ry="29"/><text class="tr" x="1376" y="847">N5</text></g>
<g id="N6"><ellipse class="nd" cx="1408" cy="658" rx="32" ry="29"/><text class="tr" x="1408" y="669">N6</text></g>
<g id="R1"><ellipse class="nd" cx="1565" cy="941" rx="33" ry="29"/><text class="tr" x="1565" y="952">R1</text></g>
<g id="R2"><ellipse class="nd" cx="1627" cy="900" rx="33" ry="29"/><text class="tr" x="1627" y="911">R2</text></g>
<g id="R3"><ellipse class="nd" cx="1688" cy="858" rx="33" ry="29"/><text class="tr" x="1688" y="869">R3</text></g>
<g id="R4"><ellipse class="nd" cx="1749" cy="816" rx="33" ry="29"/><text class="tr" x="1749" y="827">R4</text></g>
<g id="R5"><ellipse class="nd" cx="1810" cy="775" rx="33" ry="29"/><text class="tr" x="1810" y="786">R5</text></g>
<g id="R6"><ellipse class="nd" cx="1872" cy="733" rx="33" ry="29"/><text class="tr" x="1872" y="744">R6</text></g>

<text class="ttl" x="957" y="30" textLength="815" lengthAdjust="spacingAndGlyphs">DASNG + Transformation of the table PATIENTS</text>
</svg>
